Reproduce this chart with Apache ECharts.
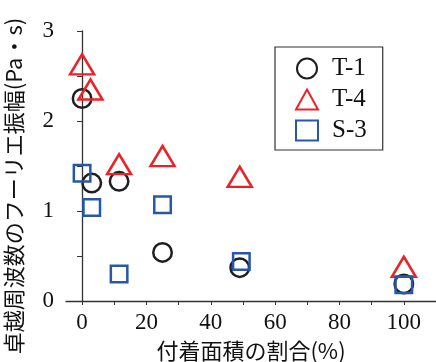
<!DOCTYPE html>
<html><head><meta charset="utf-8">
<script src="https://cdn.jsdelivr.net/npm/echarts@6/dist/echarts.min.js"></script>
<style>html,body{margin:0;padding:0;background:#fff}#c{width:436px;height:362px}</style>
</head><body><div id="c"></div>
<script>
const seriesNames = ['T-1', 'T-4', 'S-3'];
const xT1 = [0, 3, 11.5, 25, 49, 100];
const yT1 = [2.25, 1.31, 1.33, 0.54, 0.37, 0.19];
const xT4 = [0, 2.6, 11.5, 25, 49, 100];
const yT4 = [2.63, 2.35, 1.52, 1.61, 1.38, 0.38];
const xS3 = [0, 3, 11.5, 25, 49.5, 100];
const yS3 = [1.42, 1.04, 0.3, 1.07, 0.44, 0.18];
const xLabels = [0, 20, 40, 60, 80, 100];
const xTicks = [0, 10, 20, 30, 40, 50, 60, 70, 80, 90, 100];
const yLabels = [0, 1, 2, 3];
const yTicks = [0, 0.5, 1, 1.5, 2, 2.5, 3];
const xName = '付着面積の割合(%)';
const yName = '卓越周波数のフーリエ振幅(Pa・s)';

const pairs = (xs, ys) => xs.map((x, i) => [x, ys[i]]);
const serif = '"Liberation Serif", "DejaVu Serif", serif';
const cjk = '"Noto Sans CJK JP", sans-serif';
const axisCol = '#333';

const chart = echarts.init(document.getElementById('c'), null, {renderer: 'canvas'});
chart.setOption({
  animation: false,
  backgroundColor: '#fff',
  grid: {left: 66, right: 0, top: 31, bottom: 61, containLabel: false, outerBoundsMode: 'none'},
  xAxis: {
    type: 'value', min: -5, max: 110,
    splitLine: {show: false},
    axisLine: {lineStyle: {color: axisCol, width: 1.3}},
    axisTick: {show: true, inside: false, length: 4, customValues: xTicks, lineStyle: {color: axisCol}},
    axisLabel: {customValues: xLabels, margin: 10, color: '#111', fontFamily: serif, fontSize: 23},
    name: xName, nameLocation: 'middle', nameGap: 39,
    nameTextStyle: {fontFamily: cjk, fontSize: 22, color: '#111'}
  },
  yAxis: {
    type: 'value', min: 0, max: 3,
    splitLine: {show: false},
    axisLine: {show: true, lineStyle: {color: axisCol, width: 1.3}},
    axisTick: {show: true, inside: false, length: 5, customValues: yTicks, lineStyle: {color: axisCol}},
    axisLabel: {customValues: yLabels, margin: 12, color: '#111', fontFamily: serif, fontSize: 23}
  },
  graphic: [{
    type: 'text', x: 14, y: 186, rotation: Math.PI / 2,
    style: {text: yName, font: '22px "Noto Sans CJK JP", sans-serif', fill: '#111',
            align: 'center', verticalAlign: 'middle'}
  }],
  legend: {
    orient: 'vertical', left: 275, top: 47,
    padding: [9, 16, 7, 20],
    borderColor: '#333', borderWidth: 1.2, backgroundColor: '#fff',
    itemWidth: 22, itemHeight: 20, itemGap: 6,
    selectedMode: false,
    textStyle: {fontFamily: serif, fontSize: 25, color: '#111', padding: [0, 0, 0, 9], lineHeight: 22},
    data: seriesNames
  },
  series: [
    {name: seriesNames[0], type: 'scatter', symbol: 'circle', symbolSize: 18.5,
     itemStyle: {color: 'rgba(0,0,0,0)', borderColor: '#1e1e1e', borderWidth: 2.5, opacity: 1},
     data: pairs(xT1, yT1)},
    {name: seriesNames[1], type: 'scatter', symbol: 'triangle', symbolSize: [24, 20],
     itemStyle: {color: 'rgba(0,0,0,0)', borderColor: '#ec2227', borderWidth: 2.5, opacity: 1},
     data: pairs(xT4, yT4)},
    {name: seriesNames[2], type: 'scatter', symbol: 'rect', symbolSize: 16.5,
     itemStyle: {color: 'rgba(0,0,0,0)', borderColor: '#2758a8', borderWidth: 2.5, opacity: 1},
     data: pairs(xS3, yS3)}
  ]
});
</script></body></html>
